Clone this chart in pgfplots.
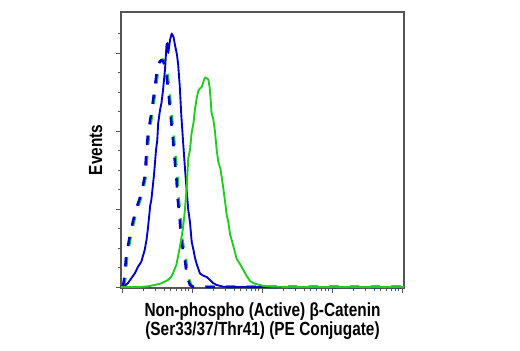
\documentclass[border=0pt]{standalone}
\usepackage{pgfplots}
\pgfplotsset{compat=1.18}
\usepackage{fontspec}
\setmainfont{Liberation Sans}
\newfontfamily\lab{Liberation Sans}[FakeStretch=0.81]
\definecolor{fblue}{RGB}{0,0,205}
\definecolor{fgreen}{RGB}{30,205,30}
\definecolor{spine}{RGB}{85,85,85}
\begin{document}
\begin{tikzpicture}
\begin{axis}[
  scale only axis, width=212.25pt, height=207pt,
  xmin=-0.0143, xmax=4.0286, ymin=-1.28, ymax=352.6,
  axis line style={draw=spine, line width=1.4pt},
  tick align=outside, tick pos=left,
  xtick={0,1,2,3,4}, xticklabels={},
  minor xtick={0.301,0.477,0.602,0.699,0.778,0.845,0.903,0.954,
               1.301,1.477,1.602,1.699,1.778,1.845,1.903,1.954,
               2.301,2.477,2.602,2.699,2.778,2.845,2.903,2.954,
               3.301,3.477,3.602,3.699,3.778,3.845,3.903,3.954},
  ytick={0,100,200,300}, yticklabels={},
  minor ytick={25,50,75,125,150,175,225,250,275,325},
  major tick length=3.75pt, minor tick length=2.25pt,
  tick style={draw=spine, line width=0.7pt},
  every axis plot/.append style={line join=round, no marks},
]
% dashed green
\addplot[fgreen, line width=1.9pt, dash pattern=on 7pt off 8.5pt] coordinates {
(0.027,0) (0.045,9.0) (0.073,37.2) (0.116,60.3) (0.173,84.6) (0.223,101.3)
(0.266,112.8) (0.302,124.4) (0.340,141.4) (0.363,170.5) (0.387,197.1) (0.435,223.1)
(0.483,254.7) (0.520,280.4) (0.552,289.5) (0.580,292.0) (0.602,290.7) (0.623,284.6)
(0.652,271.8) (0.677,252.6) (0.695,234.6) (0.720,211.5) (0.745,188.5) (0.769,162.8)
(0.792,141.0) (0.809,115.4) (0.837,91.0) (0.859,62.8) (0.887,47.4) (0.912,37.2)
(0.937,17.9) (0.966,7.7) (0.987,2.6) (1.030,0) (4.0286,0)
};
% dashed blue
\addplot[fblue, line width=1.9pt, dash pattern=on 7pt off 8.5pt] coordinates {
(0.011,0) (0.029,9.0) (0.057,37.2) (0.100,60.3) (0.157,84.6) (0.207,101.3)
(0.250,112.8) (0.286,124.4) (0.324,141.4) (0.347,170.5) (0.371,197.1) (0.419,223.1)
(0.467,254.7) (0.504,280.4) (0.536,288.5) (0.564,291.0) (0.586,289.7) (0.607,284.6)
(0.636,271.8) (0.661,252.6) (0.679,234.6) (0.704,211.5) (0.729,188.5) (0.753,162.8)
(0.776,141.0) (0.793,115.4) (0.821,91.0) (0.843,62.8) (0.871,47.4) (0.896,37.2)
(0.921,17.9) (0.950,7.7) (0.971,2.6) (1.014,0) (4.0286,0)
};
% solid blue
\addplot[fblue, line width=1.4pt] coordinates {
(-0.0143,0) (0.029,0.64) (0.086,5.13) (0.133,11.15) (0.186,17.95) (0.229,26.03)
(0.276,32.44) (0.324,47.44) (0.350,60.26) (0.371,75.64) (0.404,105.1) (0.419,111.5)
(0.457,143.6) (0.486,175.6) (0.504,188.5) (0.517,209.9) (0.543,226.9) (0.564,235.9)
(0.586,252.6) (0.614,278.2) (0.636,310.3) (0.647,312.8) (0.661,300.0) (0.686,316.7)
(0.710,325.0) (0.736,320.5) (0.757,310.3) (0.786,297.4) (0.803,284.6) (0.824,259.0)
(0.847,220.5) (0.871,188.5) (0.896,156.4) (0.921,126.9) (0.947,98.7) (0.971,83.3)
(0.996,57.7) (1.021,47.4) (1.043,37.2) (1.067,29.5) (1.114,17.3) (1.157,14.7)
(1.210,12.8) (1.257,9.0) (1.300,5.1) (1.353,2.6) (1.443,0.4) (1.686,0) (4.0286,0)
};
% solid green
\addplot[fgreen, line width=1.4pt] coordinates {
(-0.0143,0) (0.257,0) (0.371,0.9) (0.471,2.6) (0.561,4.7) (0.657,9.0) (0.700,12.8)
(0.729,17.6) (0.776,28.2) (0.824,49.6) (0.871,75.3) (0.896,96.5) (0.924,126.9)
(0.947,165.4) (0.971,175.6) (0.996,198.7) (1.019,209.0) (1.043,228.2) (1.067,242.3)
(1.090,251.3) (1.114,254.7) (1.139,256.4) (1.161,262.8) (1.186,268.6) (1.219,267.3)
(1.236,265.4) (1.253,255.1) (1.267,239.7) (1.279,223.1) (1.304,215.4) (1.329,198.7)
(1.353,175.6) (1.376,160.3) (1.407,151.3) (1.447,126.9) (1.471,110.3) (1.496,92.3)
(1.519,83.3) (1.543,67.9) (1.590,52.6) (1.639,35.9) (1.686,29.5) (1.733,21.8)
(1.781,14.1) (1.829,7.7) (1.876,5.1) (1.924,3.6) (2.019,1.5) (2.114,0.6) (2.400,0)
(4.0286,0)
};
\coordinate (sw) at (rel axis cs:0,0);
\coordinate (ne) at (rel axis cs:1,1);
\coordinate (bc) at (rel axis cs:0.5,0);
\coordinate (lc) at (rel axis cs:0,0.5);
\end{axis}
\node[anchor=base, inner sep=0pt, font={\lab\bfseries\fontsize{14.25}{14.25}\selectfont}]
  at ([yshift=-21pt]bc) {Non-phospho (Active) β-Catenin};
\node[anchor=base, inner sep=0pt, font={\lab\bfseries\fontsize{14.25}{14.25}\selectfont}]
  at ([yshift=-35.25pt]bc) {(Ser33/37/Thr41) (PE Conjugate)};
\node[rotate=90, anchor=south, inner sep=0pt, font={\lab\bfseries\fontsize{14.25}{14.25}\selectfont}]
  at ([xshift=-13.9pt]lc) {Events};
\path ([shift={(-90.75pt,-46.5pt)}]sw) rectangle ([shift={(87pt,9pt)}]ne);
\end{tikzpicture}
\end{document}
